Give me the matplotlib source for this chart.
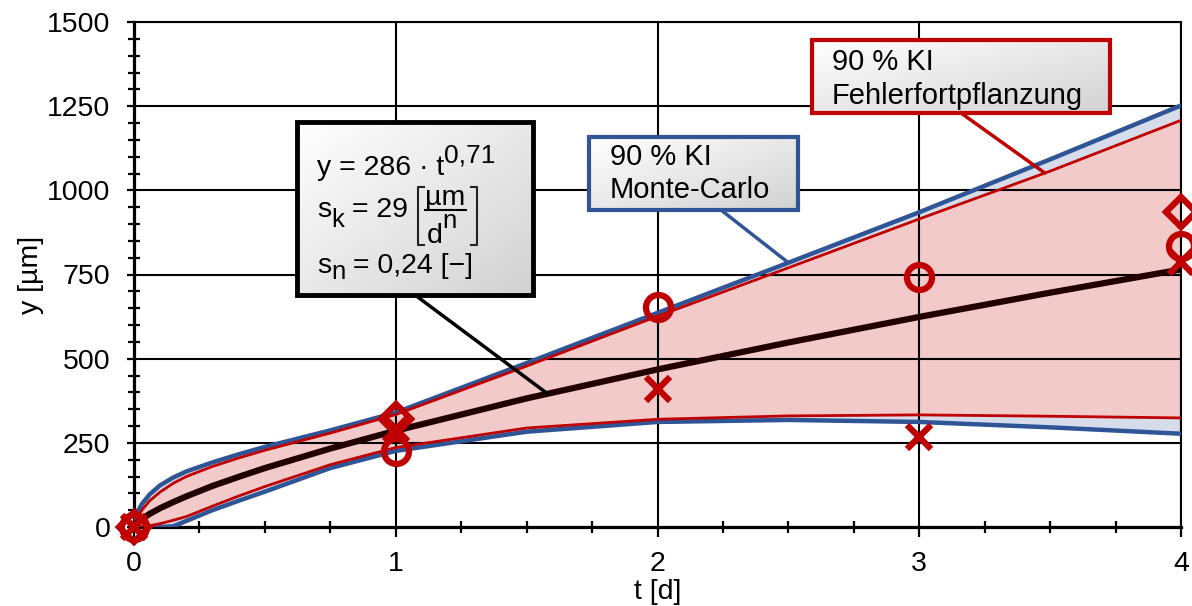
import matplotlib
matplotlib.use('Agg')
import matplotlib.pyplot as plt
import numpy as np
from matplotlib.patches import Rectangle
from matplotlib.lines import Line2D
from matplotlib.colors import LinearSegmentedColormap

plt.rcParams['font.family'] = ['Liberation Sans', 'DejaVu Sans']

# --------------------  Data --------------------------------------------- #
t = [0, 0.01, 0.03, 0.06, 0.1, 0.15, 0.2, 0.3, 0.4, 0.5, 0.75, 1,
     1.5, 2, 2.5, 3, 3.5, 4]
y_fit = [0, 11, 24, 39, 56, 74, 91, 122, 149, 175, 233, 286,
         382, 468, 548, 624, 696, 765]

# 90 % KI Monte-Carlo
mc_upper = [0, 40, 68, 97, 124, 147, 165, 192, 216, 238, 287, 340,
            487, 636, 785, 935, 1092, 1252]
mc_lower = [0, 0, 0, 0, 0, 2, 18, 50, 78, 105, 175, 226,
            283, 312, 318, 312, 296, 277]

# 90 % KI Fehlerfortpflanzung
fp_upper = [0, 25, 50, 78, 104, 130, 150, 180, 205, 228, 279, 334,
            478, 626, 770, 915, 1057, 1208]
fp_lower = [0, 0, 1, 4, 10, 20, 31, 62, 92, 120, 185, 236,
            294, 320, 330, 333, 329, 324]

# measurements
t_circle = [0, 1, 2, 3, 4]
y_circle = [0, 225, 652, 743, 835]
t_cross = [0, 1, 2, 3, 4]
y_cross = [0, 292, 410, 267, 788]
t_diamond = [0, 1, 4]
y_diamond = [0, 320, 935]

RED = '#c00000'
BLUE = '#2f5597'
W, H = 1192, 606

# -----------------------  Plot -------------------------- #
fig = plt.figure(figsize=(W / 100, H / 100), dpi=100)
ax = fig.add_axes([134 / W, 1 - 527 / H, 1047 / W, 505 / H])

ax.fill_between(t, mc_lower, mc_upper, color='#d6dce9', lw=0, zorder=1)
ax.fill_between(t, fp_lower, fp_upper, color='#f2caca', lw=0, zorder=1.1)
ax.plot(t, mc_upper, color=BLUE, lw=3.2, zorder=3)
ax.plot(t, mc_lower, color=BLUE, lw=3.2, zorder=3)
ax.plot(t, fp_upper, color=RED, lw=2.0, zorder=3.1)
ax.plot(t, fp_lower, color=RED, lw=2.0, zorder=3.1)
ax.plot(t, y_fit, color='#230000', lw=4.5, zorder=3.2)

mk = dict(color=RED, ls='none', mfc='none', mew=4.5, clip_on=False, zorder=4)
ax.plot(t_circle, y_circle, marker='o', ms=18, **mk)
ax.plot(t_cross, y_cross, marker='x', ms=17, **mk)
ax.plot(t_diamond, y_diamond, marker='D', ms=15, **mk)

ax.set_xlim(0, 4)
ax.set_ylim(0, 1500)
ax.set_xticks(range(5))
ax.set_xticks(np.arange(0, 4.01, 0.25), minor=True)
ax.set_yticks(range(0, 1501, 250))
ax.set_yticks(range(0, 1501, 50), minor=True)
ax.grid(True, which='major', color='black', lw=1.5)
ax.tick_params(which='both', labelsize=20.5, width=1.6, colors='black')
ax.tick_params(axis='x', which='major', direction='out', length=7, pad=10)
ax.tick_params(axis='x', which='minor', direction='inout', length=9)
ax.tick_params(axis='y', which='major', direction='out', length=5, pad=12)
ax.tick_params(axis='y', which='minor', direction='inout', length=9)
for s in ['left', 'bottom']:
    ax.spines[s].set_linewidth(2.3)
for s in ['top', 'right']:
    ax.spines[s].set_linewidth(1.5)
ax.set_xlabel('t [d]', fontsize=20.5, labelpad=2)
ax.set_ylabel('y [µm]', fontsize=20.5, labelpad=2)

# -----------------------  Annotation boxes -------------------------- #
grad_cmap = LinearSegmentedColormap.from_list('grad', ['#ffffff', '#d2d2d2'])
u, v = np.meshgrid(np.linspace(0, 1, 64), np.linspace(0, 1, 64))
grad = (u + v) / 2


def px(x, y):
    return ((x - 134) / 1047, (527 - y) / 505)


def fg(x, y):
    return (x / W, 1 - y / H)


def box(x0, y0, x1, y1, edge, lw):
    a0, b1 = px(x0, y0)
    a1, b0 = px(x1, y1)
    ax.imshow(grad, extent=(a0, a1, b0, b1), transform=ax.transAxes, cmap=grad_cmap,
              vmin=0, vmax=1, aspect='auto', interpolation='bilinear', zorder=6)
    ax.add_patch(Rectangle((a0, b0), a1 - a0, b1 - b0, transform=ax.transAxes,
                           fill=False, ec=edge, lw=lw, zorder=7, clip_on=False))


def leader(x0, y0, tx, ty, color, lw):
    ax.annotate('', xy=(tx, ty), xycoords='data', xytext=px(x0, y0), textcoords='axes fraction',
                arrowprops=dict(arrowstyle='-', color=color, lw=lw, shrinkA=0, shrinkB=0), zorder=5)


leader(415, 295, 1.58, np.interp(1.58, t, y_fit), 'black', 2.5)
leader(721, 210, 2.5, np.interp(2.5, t, mc_upper), BLUE, 2.5)
leader(961, 113, 3.48, np.interp(3.48, t, fp_upper), RED, 2.5)

box(297, 122, 533, 295, 'black', 3.5)
box(589, 137, 798, 210, BLUE, 3)
box(812, 40, 1110, 113, RED, 3)

renderer = fig.canvas.get_renderer()


def run(x, y, pieces):
    # consecutive text pieces on one baseline, each with its own vertical shift
    for s, dy, sz in pieces:
        txt = fig.text(*fg(x, y + dy), s, fontsize=sz, va='baseline', ha='left', zorder=10)
        x += txt.get_window_extent(renderer).width
    return x


def fline(xs, ys, lw=1.5, color='black'):
    fig.add_artist(Line2D([x / W for x in xs], [1 - y / H for y in ys],
                          color=color, lw=lw, zorder=10))


# formula box
run(317, 175, [('y = 286 · t', 0, 20.5), ('0,71', -12, 19)])
x = run(317, 217, [('s', 0, 20.5), ('k', 10, 18.5), (' = 29 ', 0, 20.5)])
xb = x + 2
fline([xb + 6, xb, xb, xb + 6], [187, 187, 245, 245], color='#222222')
xn = xb + 7
fig.text(*fg(xn, 205), 'µm', fontsize=20.5, va='baseline', ha='left', zorder=10)
xd = run(xn + 2, 243, [('d', 0, 20.5), ('n', -15, 18.5)])
xr = max(xd, xn + 40) + 2
fline([xn, xr - 1], [210, 210])
fline([xr + 4, xr + 10, xr + 10, xr + 4], [187, 187, 245, 245], color='#222222')
run(317, 273, [('s', 0, 20.5), ('n', 6, 18.5), (' = 0,24 [−]', 0, 20.5)])

tk = dict(transform=ax.transAxes, fontsize=21, va='center', ha='left', zorder=8)
ax.text(*px(610, 157), '90 % KI', **tk)
ax.text(*px(610, 190), 'Monte-Carlo', **tk)
ax.text(*px(832, 62), '90 % KI', **tk)
ax.text(*px(832, 96), 'Fehlerfortpflanzung', **tk)

fig.savefig('out.png', dpi=100)
